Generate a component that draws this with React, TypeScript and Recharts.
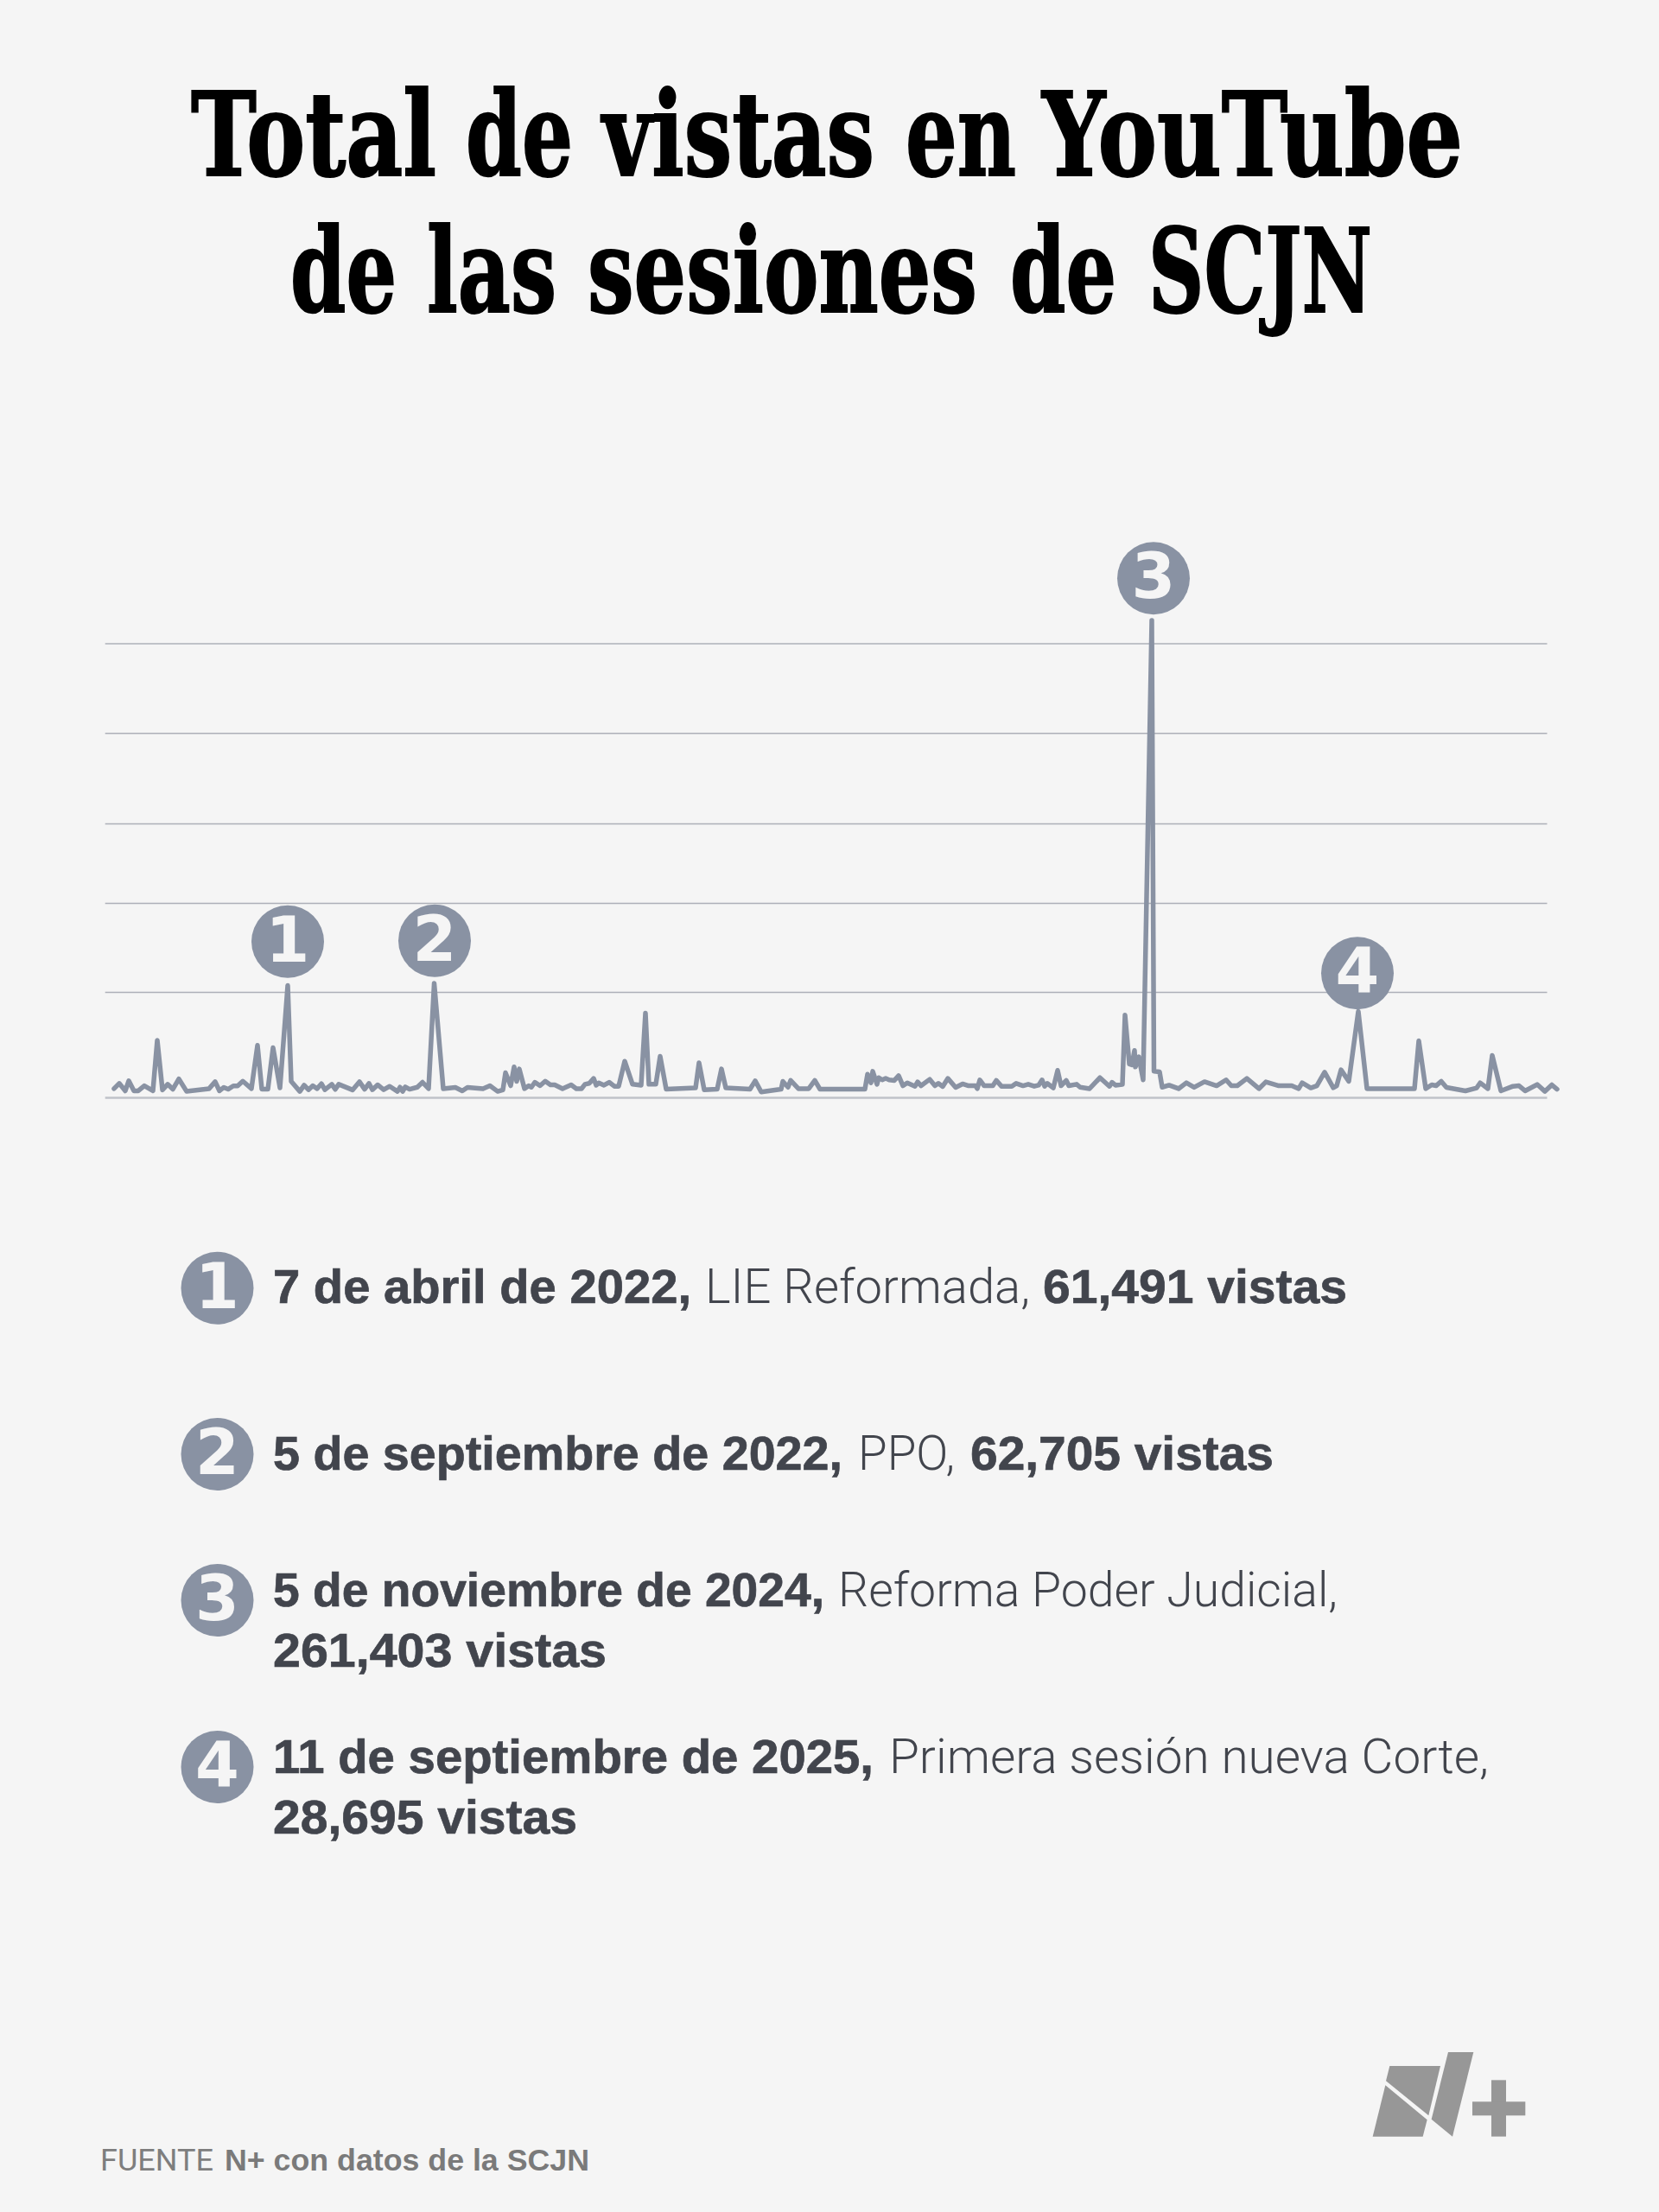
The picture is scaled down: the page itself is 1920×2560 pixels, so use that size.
import React from "react";
import { LineChart, Line, XAxis, YAxis, ReferenceLine, ReferenceDot } from "recharts";

const BG = "#f5f5f5";
const LINE = "#8992a3";
const INK = "#42454d";

const titleWords = [
  { t: "Total", x: 221, w: 284, y: 203 },
  { t: "de", x: 539, w: 124, y: 203 },
  { t: "vistas", x: 697, w: 315, y: 203 },
  { t: "en", x: 1048, w: 128, y: 203 },
  { t: "YouTube", x: 1206, w: 487, y: 203 },
  { t: "de", x: 336, w: 123, y: 360.5 },
  { t: "las", x: 494, w: 150, y: 360.5 },
  { t: "sesiones", x: 680, w: 451, y: 360.5 },
  { t: "de", x: 1169, w: 123, y: 360.5 },
  { t: "SCJN", x: 1329, w: 259, y: 360.5 },
];
const titleScale = 0.65;

// Position along the time axis (in axis units) and views of each session
const sessionPos = [32,38,45,49,55,60,67,77,82,88,94,100,107,116,142,149,154,159,164,170,175,181,191,198,203,210,216,224,233,237,247,252,257,262,267,272,276,284,288,292,308,316,322,327,331,337,344,351,360,363,366,369,374,383,389,396,402.5,413,427,435,441,459,467,476,482,485,491,495,498,501,507,512,515,519,525,531,537,542,551,561,567,573,577,582,587,590,593,599,605,611,616,623,632,642,647,651,659,664,671,705,709,715,730,735,740,768,774,781,804,806,812,815,824,836,843,849,901,904,908,910,915,917,921,925,929,935,940,945,950,959,962,966,976,982,986,991,997,1006,1014,1021,1029,1031,1034,1039,1049,1053,1059,1071,1076,1084,1090,1097,1102,1106,1109,1112,1119,1124,1128,1134,1137,1146,1150,1161,1173,1184,1187,1191,1199,1202,1207,1210,1213,1214,1218,1223,1233,1235.5,1242,1245,1253,1264,1273,1282,1294,1308,1319,1325,1332,1343,1357,1365,1380,1395,1403,1407,1417,1424,1433,1443,1447,1452,1461,1472,1482,1537,1542,1550,1557,1562,1568,1574,1596,1609,1613,1622,1627,1637,1651,1658,1665,1679,1688,1696,1702];
const sessionViews = [5000,7900,3800,9300,3800,3800,6600,3800,31500,4300,7400,4700,10300,3500,5000,8800,3800,5700,4700,6500,6500,9100,5000,28700,4700,4700,27400,5400,61491,9000,3500,6900,4400,6600,5000,7700,4400,7400,4600,7400,4300,8800,4700,7900,4400,7100,4400,6300,3500,5800,3500,6000,4700,5800,8500,5000,62705,5000,5700,3800,5700,5000,6600,3500,4300,13700,6600,16900,9000,15800,5000,6600,5800,8500,6600,9100,7100,7100,5000,7100,5000,5000,7400,7900,10600,6900,8200,6900,8500,6300,6300,20000,7400,6900,46400,7400,7400,22700,4700,5400,19200,4400,4700,15800,5400,4700,9300,3200,4700,9000,5800,9500,5000,5000,9500,4700,4700,12900,8200,14500,7400,11000,9800,10600,9800,9500,12100,6600,8200,6300,8700,6600,10100,6600,7900,6200,10600,5700,7600,6600,6600,5000,9800,6600,6600,9500,6300,6300,7900,6600,7400,6300,6900,9800,6300,7900,5400,15000,6600,9500,6600,7400,5800,5000,11000,6300,8500,6900,7300,45300,18500,18000,25900,16900,22400,9800,261403,14500,14200,5800,6900,5000,8200,5700,8800,6600,9800,6600,6600,10600,5000,8700,6600,6600,5000,8200,5400,6600,14000,5500,6600,15300,9000,47300,5000,5000,31200,5000,7100,6600,9000,5700,3800,5400,8200,5000,23200,3800,6300,6600,3800,7300,3500,7100,4700];

const gridValues = [57700, 106400, 150000, 199500, 248600];
const axisStart = 21.7;
const axisEnd = 1690.5;

const markerLabels = ["1", "2", "3", "4"];
const markerPos = [233, 403, 1235, 1471];
const markerViews = [85500, 86000, 284400, 68200];

const data = sessionPos.map((x, i) => ({ x, views: sessionViews[i] }));

const BOLD = "'Liberation Sans', sans-serif";
const LIGHT = "Roboto, sans-serif";
const DIGIT = "'DejaVu Sans', sans-serif";

type Seg = { t: string; x: number; w: number; y: number; b: boolean };
const notes: Seg[] = [
  { t: "7 de abril de 2022,", x: 316, w: 484, y: 1508, b: true },
  { t: "LIE Reformada,", x: 816, w: 376, y: 1508, b: false },
  { t: "61,491 vistas", x: 1207, w: 352, y: 1508, b: true },
  { t: "5 de septiembre de 2022,", x: 316, w: 659, y: 1701, b: true },
  { t: "PPO,", x: 993, w: 112, y: 1701, b: false },
  { t: "62,705 vistas", x: 1123, w: 351, y: 1701, b: true },
  { t: "5 de noviembre de 2024,", x: 316, w: 638, y: 1859, b: true },
  { t: "Reforma Poder Judicial,", x: 970, w: 578, y: 1859, b: false },
  { t: "261,403 vistas", x: 316, w: 386, y: 1929, b: true },
  { t: "11 de septiembre de 2025,", x: 316, w: 695, y: 2052, b: true },
  { t: "Primera sesión nueva Corte,", x: 1029, w: 694, y: 2052, b: false },
  { t: "28,695 vistas", x: 316, w: 352, y: 2122, b: true },
];
const noteMarkerY = [1490.7, 1683, 1852, 2045];

const Bubble = ({ cx, cy, r, label }: { cx: number; cy: number; r: number; label: string }) => (
  <g>
    <circle cx={cx} cy={cy} r={r} fill={LINE} />
    <text x={cx} y={cy + 23} textAnchor="middle" fontFamily={DIGIT} fontWeight={700} fontSize={73} fill={BG}>
      {label}
    </text>
  </g>
);

export default function App() {
  return (
    <div style={{ position: "absolute", left: 0, top: 0, width: 1920, height: 2560, background: BG, overflow: "hidden" }}>
      <svg width={1920} height={2560} style={{ position: "absolute", left: 0, top: 0 }}>
        {titleWords.map((w) => (
          <text
            key={w.t + w.x}
            transform={`translate(${w.x} ${w.y}) scale(${titleScale} 1)`}
            textLength={w.w / titleScale}
            lengthAdjust="spacingAndGlyphs"
            fontFamily="'DejaVu Serif', serif"
            fontWeight={700}
            fontSize={134}
            fill="#000"
            stroke="#000"
            strokeWidth={2}
          >
            {w.t}
          </text>
        ))}
        {notes.map((n) => (
          <text
            key={n.t}
            x={n.x}
            y={n.y}
            textLength={n.w}
            lengthAdjust="spacingAndGlyphs"
            fontFamily={n.b ? BOLD : LIGHT}
            fontWeight={n.b ? 700 : 300}
            fontSize={56}
            fill={INK}
            stroke={n.b ? INK : "none"}
            strokeWidth={n.b ? 0.7 : 0}
          >
            {n.t}
          </text>
        ))}
        {markerLabels.map((m, i) => (
          <Bubble key={m} cx={251.5} cy={noteMarkerY[i]} r={42} label={m} />
        ))}
        <text x={116} y={2512} fontSize={35} fill="#7e7e7e" fontFamily={LIGHT} textLength={131} lengthAdjust="spacingAndGlyphs">
          FUENTE
        </text>
        <text x={260} y={2512} fontSize={35} fill="#7a7a7a" fontFamily={BOLD} fontWeight={700} textLength={422} lengthAdjust="spacingAndGlyphs">
          N+ con datos de la SCJN
        </text>
        <g fill="#979797" transform="translate(1540 2340) scale(0.3333)">
          <polygon points="205,153 381,153 340,325 192,205" />
          <polygon points="190,220 335,340 320,398 146,398" />
          <polygon points="408,105 496,105 423,398 350,338" />
          <rect x={558} y={202} width={51} height={196} />
          <rect x={492} y={277} width={184} height={48} />
        </g>
      </svg>
      <div style={{ position: "absolute", left: 100, top: 594 }}>
        <LineChart width={1720} height={700} data={data} margin={{ top: 0, right: 0, bottom: 23.5, left: 0 }}>
          <XAxis type="number" dataKey="x" domain={[0, 1720]} hide />
          <YAxis type="number" domain={[0, 320000]} hide />
          {gridValues.map((v) => (
            <ReferenceLine
              key={v}
              segment={[{ x: axisStart, y: v }, { x: axisEnd, y: v }]}
              stroke="#adb0b8"
              strokeWidth={1.5}
              ifOverflow="visible"
            />
          ))}
          <ReferenceLine
            segment={[{ x: axisStart, y: 0 }, { x: axisEnd, y: 0 }]}
            stroke="#bfc2c9"
            strokeWidth={2.5}
            ifOverflow="visible"
          />
          <Line
            dataKey="views"
            stroke={LINE}
            strokeWidth={5.5}
            strokeLinejoin="round"
            strokeLinecap="round"
            dot={false}
            isAnimationActive={false}
          />
          {markerLabels.map((m, i) => (
            <ReferenceDot
              key={m}
              x={markerPos[i]}
              y={markerViews[i]}
              r={42}
              ifOverflow="visible"
              shape={(p: any) => <Bubble cx={p.cx} cy={p.cy} r={42} label={m} />}
            />
          ))}
        </LineChart>
      </div>
    </div>
  );
}
